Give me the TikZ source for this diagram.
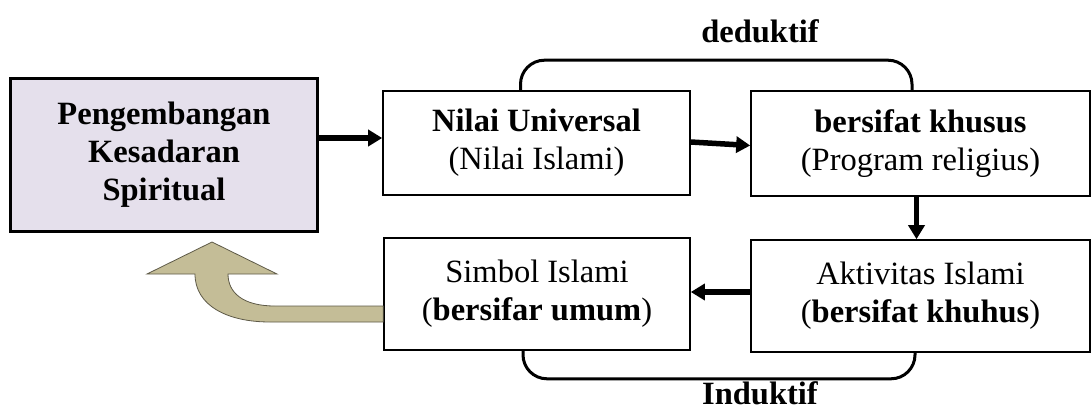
\documentclass[tikz,border=0pt]{standalone}
\usepackage{fontspec}
\setmainfont{Liberation Serif}
\usetikzlibrary{arrows.meta}
\definecolor{lav}{HTML}{E5E0EC}
\definecolor{tan}{HTML}{C4BD97}
\definecolor{tanline}{HTML}{5E5A48}
\tikzset{
  box/.style={draw=black, line width=1.6pt, fill=white, align=center, inner sep=0pt,
    font=\fontsize{32.5}{38}\selectfont},
  mainbox/.style={box, line width=3.5pt, fill=lav},
  flow/.style={line width=5.5pt, -{Triangle[length=14pt,width=16pt]}},
  bracket/.style={line width=3pt, rounded corners=24pt},
  lbl/.style={font=\fontsize{32.5}{38}\selectfont\bfseries, inner sep=0pt}
}
\begin{document}
\begin{tikzpicture}[x=1pt,y=-1pt]
\useasboundingbox (0,0) rectangle (1091,412);
\node[box, minimum width=307pt, minimum height=104pt] (N) at (536.5,143) {\textbf{Nilai Universal}\\(Nilai Islami)};
\node[box, minimum width=339pt, minimum height=105pt] (B) at (920.5,143.5) {\textbf{bersifat khusus}\\(Program religius)};
\node[box, minimum width=306pt, minimum height=112pt] (S) at (537,294) {Simbol Islami\\(\textbf{bersifar umum})};
\node[box, minimum width=339pt, minimum height=112pt] (A) at (920.5,296) {Aktivitas Islami\\(\textbf{bersifat khuhus})};
\node[mainbox, minimum width=307pt, minimum height=153pt] (L) at (164,155) {\textbf{Pengembangan}\\\textbf{Kesadaran}\\\textbf{Spiritual}};
\draw[bracket] ([xshift=-16pt]N.north) -- ++(0,-30) -| ([xshift=-8.5pt]B.north);
\draw[bracket] ([xshift=-14pt]S.south) -- ++(0,28) -| ([xshift=-5.5pt]A.south);
\node[lbl] (ded) at (760,31) {deduktif};
\node[lbl, anchor=base] (ind) at (760,404) {Induktif};
% flow arrows
\draw[flow] ([yshift=17pt]L.east) -- ([yshift=5pt]N.west);
\draw[flow] ([yshift=1pt]N.east) -- ([yshift=-2pt]B.west);
\draw[flow] ([xshift=-4pt]B.south) -- ([xshift=-4pt]A.north);
\draw[flow] ([yshift=4pt]A.west) -- ([yshift=2pt]S.west -| S.east);
% curved block arrow
\coordinate (t1) at ([yshift=-12pt]S.west);
\draw[fill=tan, draw=tanline, line width=0.8pt]
  (t1) -- (275,306) .. controls (242,306) and (228,292) .. (228,274)
  -- (277,274) -- (212,242) -- (147,274) -- (195,274)
  .. controls (195,306) and (228,322) .. (270,322) -- (t1 |- 0,322) -- cycle;
\end{tikzpicture}
\end{document}
